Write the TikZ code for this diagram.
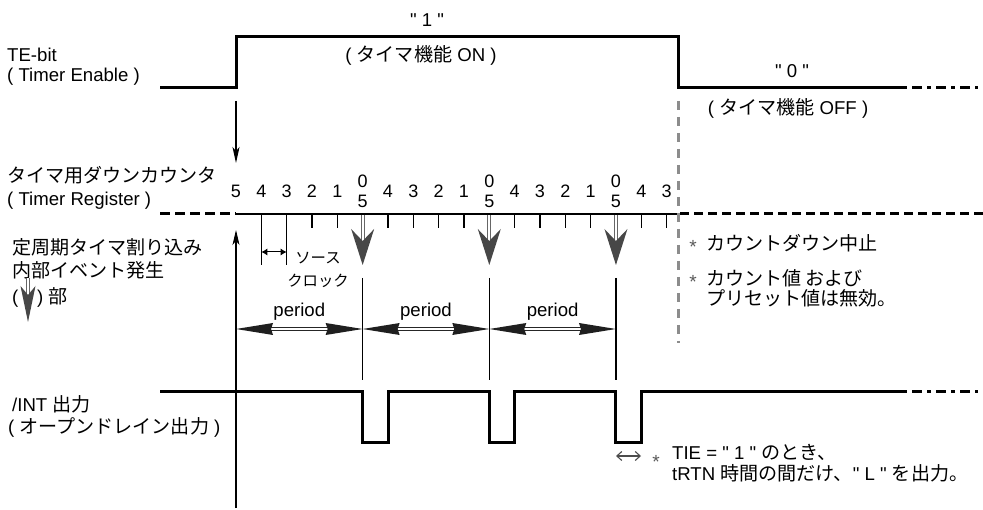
\documentclass[tikz,border=0pt]{standalone}
\usepackage{fontspec}
\setmainfont{Liberation Sans}[Ligatures=TeXOff]
\newfontfamily\cjk[Scale=1.025]{Noto Sans CJK JP}
\usetikzlibrary{arrows.meta}
\newcommand\jp[1]{{\cjk #1}}
\newcommand\dq{\char34\relax}
\begin{document}
\begin{tikzpicture}[x=1pt,y=-1pt,
  sig/.style={line width=3pt, line join=miter, line cap=butt},
  dashdot/.style={line width=3pt, dash pattern=on 10pt off 5pt on 4pt off 5pt, dash phase=19pt},
  thinline/.style={line width=1.1pt},
  lbl/.style={inner sep=0pt, font=\fontsize{18.6}{22}\selectfont, anchor=base west},
  clbl/.style={inner sep=0pt, font=\fontsize{18.6}{22}\selectfont, anchor=base},
  digit/.style={inner sep=0pt, font=\fontsize{18}{22}\selectfont, anchor=base},
  small/.style={inner sep=0pt, font=\fontsize{15}{18}\selectfont, anchor=base},
  star/.style={inner sep=0pt, font=\fontsize{19}{20}\selectfont, text=black!65},
  bigarrowhead/.style={fill=black!72},
  bigshaft/.style={draw=black!60, line width=1.2pt, double=white, double distance=1.8pt},
  perhead/.style={fill=black!88},
  pershaft/.style={draw=black!85, line width=1.1pt, double=white, double distance=1.6pt}]
\useasboundingbox (0,0) rectangle (983,510);

% ---------- TE-bit signal ----------
\coordinate (te0) at (160,88);
\coordinate (te1) at (236,88);
\coordinate (te2) at (236,37);
\coordinate (te3) at (678,37);
\coordinate (te4) at (678,88);
\coordinate (te5) at (907,88);
\coordinate (te6) at (978,88);
\draw[sig] (te0) -- (te1) -- (te2) -- (te3) -- (te4) -- (te5);
\draw[dashdot] (te5) -- (te6);

\node[lbl] (tebit) at (7,62) {TE-bit};
\node[lbl] (tebit2) at (7,82) {( Timer Enable )};
\node[clbl] (one) at (427,27) {\dq{} 1 \dq};
\node[clbl] (on) at (421,62) {( \jp{タイマ機能} ON )};
\node[clbl] (zero) at (792,78) {\dq{} 0 \dq};
\node[clbl] (off) at (788,115) {( \jp{タイマ機能} OFF )};

% down arrow from TE edge
\coordinate (da0) at (236,101);
\coordinate (da1) at (236,163);
\draw[thinline, -{Stealth[length=16pt,width=7pt,inset=4pt]}] (da0) -- (da1);

% ---------- Timer register ----------
\node[lbl] (treg) at (7,183) {\jp{タイマ用ダウンカウンタ}};
\node[lbl] (treg2) at (7,206) {( Timer Register )};

\coordinate (r0) at (160,214);
\coordinate (r1) at (236,214);
\coordinate (r2) at (678,214);
\coordinate (r3) at (983,214);
\draw[line width=3pt, dash pattern=on 10pt off 5pt] (r0) -- (r1);
\draw[thinline] (r1) -- (r2);
\draw[line width=3pt, dash pattern=on 9pt off 5pt, dash phase=12pt] (r2) -- (r3);

% ticks
\foreach \k in {3,4,6,7,8,9,11,12,13,14,16,17}
  \draw[thinline] ({236+25.33*\k},214) -- ({236+25.33*\k},228);
\foreach \k in {1,2}
  \draw[thinline] ({236+25.33*\k},214) -- ({236+25.33*\k},265);

% digits
\foreach \k/\n in {0/5,1/4,2/3,3/2,4/1,6/4,7/3,8/2,9/1,11/4,12/3,13/2,14/1,16/4,17/3}
  \node[digit] at ({236+25.33*\k},198) {\n};
\foreach \k in {5,10,15}{
  \node[digit] at ({236+25.33*\k},188) {0};
  \node[digit] at ({236+25.33*\k},208) {5};
}

% source clock
\draw[line width=1pt, {Latex[length=6pt,width=7pt]}-{Latex[length=6pt,width=7pt]}] (261.3,252) -- (286.7,252);
\node[small] (src1) at (318,264) {\jp{ソース}};
\node[small] (src2) at (318,287) {\jp{クロック}};

% big gray arrows (interrupt events)
\foreach \k in {5,10,15}{
  \pgfmathsetmacro{\xx}{236+25.33*\k}
  \draw[bigshaft] (\xx,215.5) -- (\xx,240);
  \fill[bigarrowhead] (\xx-11.5,229) -- (\xx,241) -- (\xx+11.5,229) -- (\xx,265) -- cycle;
  \draw[thinline] (\xx,278) -- (\xx,380);
}

% gray dashed boundary
\coordinate (g0) at (678,101);
\coordinate (g1) at (678,343);
\draw[line width=3pt, black!45, dash pattern=on 9pt off 7pt] (g0) -- (g1);

% left legend
\node[lbl] (lg1) at (12,255) {\jp{定周期タイマ割り込み}};
\node[lbl] (lg2) at (12,278) {\jp{内部イベント発生}};
\node[lbl] (lg3) at (12,304) {(};
\node[lbl] (lg4) at (37,304) {) \jp{部}};
\draw[bigshaft] (28,278) -- (28,294);
\fill[bigarrowhead] (20.5,286) -- (28,295) -- (35.5,286) -- (28,322) -- cycle;

% up arrow
\coordinate (ua0) at (236,508);
\coordinate (ua1) at (236,230);
\draw[thinline, -{Stealth[length=15pt,width=7pt,inset=4pt]}] (ua0) -- (ua1);

% period arrows
\foreach \a/\b in {236/362.65, 362.65/489.3, 489.3/615.95}{
  \draw[pershaft] (\a+35,329) -- (\b-35,329);
  \fill[perhead] (\a,329) -- (\a+37,323) -- (\a+35,329) -- (\a+37,335) -- cycle;
  \fill[perhead] (\b,329) -- (\b-37,323) -- (\b-35,329) -- (\b-37,335) -- cycle;
  \node[clbl] at ({(\a+\b)/2},317) {period};
}

% notes right
\node[star] at (693,247) {*};
\node[lbl] (n1) at (706,251) {\jp{カウントダウン中止}};
\node[star] at (693,282) {*};
\node[lbl] (n2) at (706,286) {\jp{カウント値 および}};
\node[lbl] (n3) at (706,306) {\jp{プリセット値は無効。}};

% ---------- /INT output ----------
\node[lbl] (int1) at (12,412) {/INT \jp{出力}};
\node[lbl] (int2) at (8,434) {( \jp{オープンドレイン出力} )};

\coordinate (i0) at (160,392);
\coordinate (i9) at (907,392);
\coordinate (i10) at (978,392);
\draw[sig] (i0) -- (362.65,392) -- (362.65,443) -- (388,443) -- (388,392)
  -- (489.3,392) -- (489.3,443) -- (514.6,443) -- (514.6,392)
  -- (615.95,392) -- (615.95,443) -- (641.3,443) -- (641.3,392) -- (i9);
\draw[dashdot] (i9) -- (i10);

\draw[line width=1.1pt, black!70, {Straight Barb[length=5pt,width=9pt]}-{Straight Barb[length=5pt,width=9pt]}] (616,456) -- (641,456);
\node[star] at (656,462) {*};
\node[lbl] (t1) at (672,460) {TIE = \dq{} 1 \dq{} \jp{のとき、}};
\node[lbl] (t2) at (672,480) {tRTN \jp{時間の間だけ、}\dq{} L \dq{} \jp{を出力。}};
\end{tikzpicture}
\end{document}
